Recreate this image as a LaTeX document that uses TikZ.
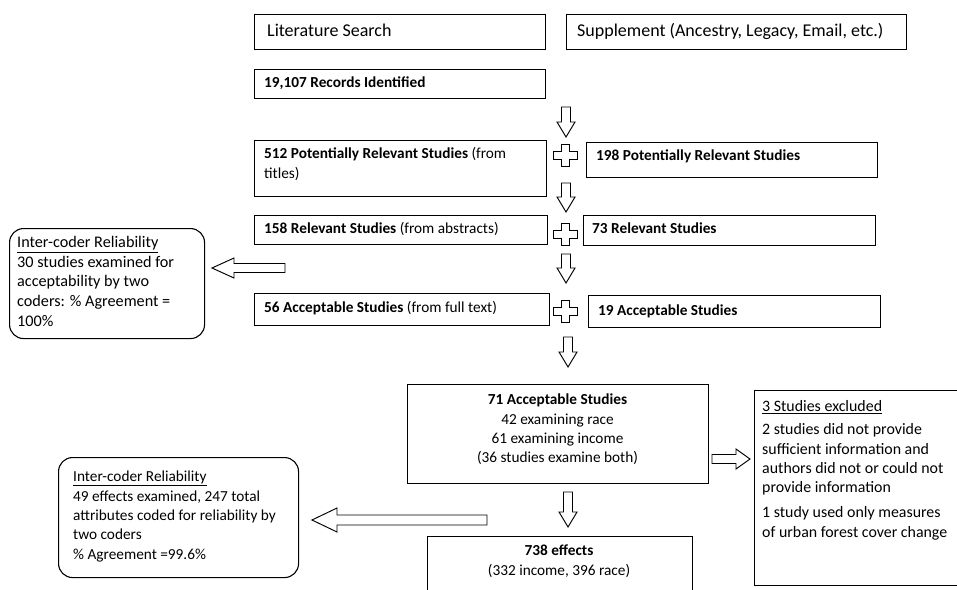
\documentclass[tikz,border=0pt]{standalone}
\usepackage{fontspec}
\setmainfont{Carlito}
\tikzset{
  box/.style={draw=black, line width=1.1pt, inner sep=0pt, anchor=north west},
  rbox/.style={box, rounded corners=14pt},
  body/.style={inner sep=0pt, font=\fontsize{15.3}{19.3}\selectfont, align=left},
  bodyc/.style={inner sep=0pt, font=\fontsize{15.3}{19.3}\selectfont, align=center},
  big/.style={inner sep=0pt, font=\fontsize{18}{21}\selectfont},
  arrowline/.style={draw=black, fill=white, line width=0.95pt, line join=miter},
  pics/darrow/.style={code={\draw[arrowline] (-4.5,0) -- (4.5,0) -- (4.5,#1-15) -- (9,#1-15) -- (0,#1) -- (-9,#1-15) -- (-4.5,#1-15) -- cycle;}},
  pics/harrow/.style n args={4}{code={\draw[arrowline] (0,-#3) -- (#1-#2,-#3) -- (#1-#2,-#4) -- (#1,0) -- (#1-#2,#4) -- (#1-#2,#3) -- (0,#3) -- cycle;}},
  pics/plusmark/.style={code={\draw[arrowline] (-4,-11) -- (4,-11) -- (4,-4) -- (12,-4) -- (12,4) -- (4,4) -- (4,11) -- (-4,11) -- (-4,4) -- (-12,4) -- (-12,-4) -- (-4,-4) -- cycle;}}
}
\begin{document}
\begin{tikzpicture}[x=1pt,y=-1pt]
\useasboundingbox (0,0) rectangle (957,589);
\fill[white] (0,0) rectangle (957,589);

% top boxes
\node[box, minimum width=291, minimum height=35] (lit) at (254,14) {};
\node[big, anchor=base west] (litT) at (267,36.5) {Literature Search};
\node[box, minimum width=340, minimum height=35] (sup) at (566,14) {};
\node[big, anchor=base west] (supT) at (577,36.5) {Supplement (Ancestry, Legacy, Email, etc.)};

\node[box, minimum width=291, minimum height=29] (rec) at (254,69) {};
\node[body, anchor=base west] (recT) at (264,87.6) {\textbf{19,107 Records Identified}};

\pic (a1) at (566,107) {darrow=30};

% row 2
\node[box, minimum width=292, minimum height=56] (p512) at (254,140) {};
\node[body, anchor=north west] (p512T) at (264,145.1) {\strut\textbf{512 Potentially Relevant Studies} (from\\\strut titles)};
\pic (plus1) at (565,155) {plusmark};
\node[box, minimum width=291, minimum height=35] (p198) at (586,142) {};
\node[body, anchor=base west] (p198T) at (596,160.6) {\textbf{198 Potentially Relevant Studies}};

\pic (a2) at (566,183) {darrow=29};

% row 3
\node[box, minimum width=293, minimum height=29] (r158) at (254,215) {};
\node[body, anchor=base west] (r158T) at (264,233.6) {\textbf{158 Relevant Studies} (from abstracts)};
\pic (plus2) at (565,234) {plusmark};
\node[box, minimum width=292, minimum height=30] (r73) at (583,215) {};
\node[body, anchor=base west] (r73T) at (592,233.6) {\textbf{73 Relevant Studies}};

\pic (a3) at (566,254) {darrow=29};

% left reliability box 1
\node[rbox, minimum width=195, minimum height=110] (lb1) at (9,228) {};
\node[body, font=\fontsize{16.2}{19.6}\selectfont, anchor=north west] (lb1T) at (17,233.8) {\strut\underline{Inter-coder Reliability}\\\strut 30 studies examined for\\\strut acceptability by two\\\strut coders: \% Agreement =\\\strut 100\%};
\pic[rotate=180] (la1) at (285,268) {harrow={73}{22}{4.5}{10}};

% row 4
\node[box, minimum width=295, minimum height=32] (a56) at (254,293) {};
\node[body, anchor=base west] (a56T) at (264,312.6) {\textbf{56 Acceptable Studies} (from full text)};
\pic (plus3) at (565,311) {plusmark};
\node[box, minimum width=292, minimum height=32] (a19) at (588,295) {};
\node[body, anchor=base west] (a19T) at (598,315.6) {\textbf{19 Acceptable Studies}};

\pic (a4) at (568,337) {darrow=30};

% 71 box
\node[box, minimum width=301, minimum height=99] (s71) at (407,384) {};
\node[bodyc, anchor=north] (s71T) at (557.5,391.1) {\strut\textbf{71 Acceptable Studies}\\\strut 42 examining race\\\strut 61 examining income\\\strut (36 studies examine both)};

\pic (ra) at (712,459) {harrow={38}{14}{4.5}{10}};

% excluded box
\node[box, minimum width=215, minimum height=195] (exc) at (754,390) {};
\node[body, font=\fontsize{15.9}{19.3}\selectfont, anchor=north west] (excT) at (762,398.1) {\strut\underline{3 Studies excluded}\\[3.7pt]\strut 2 studies did not provide\\\strut sufficient information and\\\strut authors did not or could not\\\strut provide information\\[5.7pt]\strut 1 study used only measures\\\strut of urban forest cover change};

\pic (a5) at (568,492) {darrow=35};

% left reliability box 2
\node[rbox, minimum width=240, minimum height=120] (lb2) at (58,457) {};
\node[body, anchor=north west] (lb2T) at (73,468.1) {\strut\underline{Inter-coder Reliability}\\\strut 49 effects examined, 247 total\\\strut attributes coded for reliability by\\\strut two coders\\\strut \% Agreement =99.6\%};
\pic[rotate=180] (la2) at (487,520) {harrow={175}{25}{5}{12}};

% 738 box
\node[box, minimum width=265, minimum height=70] (e738) at (427,536) {};
\node[bodyc, anchor=north] (e738T) at (559,542.1) {\strut\textbf{738 effects}\\\strut (332 income, 396 race)};
\end{tikzpicture}
\end{document}
